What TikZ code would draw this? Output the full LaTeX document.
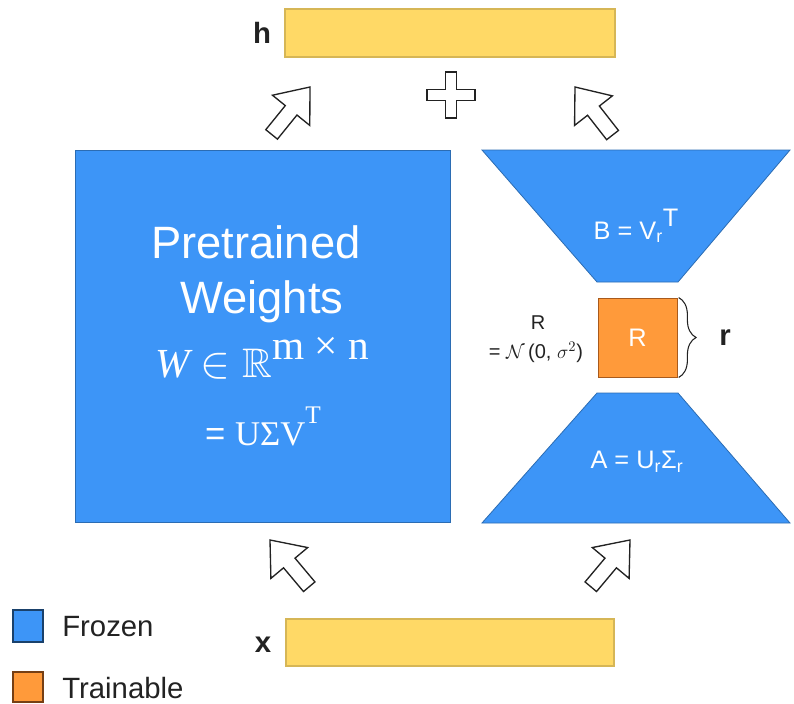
\documentclass[tikz,border=0pt]{standalone}
\usepackage{amsmath,amssymb,graphicx}
\usepackage[no-math]{fontspec}
\setmainfont{Liberation Sans}
\newfontfamily\serifb{Liberation Serif}
\usetikzlibrary{decorations.pathreplacing}
\definecolor{frozen}{HTML}{3D95F7}
\definecolor{frozenline}{HTML}{2B6CB3}
\definecolor{train}{HTML}{FF9A3A}
\definecolor{trainline}{HTML}{A85A1C}
\definecolor{vec}{HTML}{FFD966}
\definecolor{vecline}{HTML}{D6B656}
\definecolor{ink}{HTML}{222222}
\begin{document}
\begin{tikzpicture}[x=0.75pt,y=-0.75pt,
  frozenbox/.style={fill=frozen,draw=frozenline,line width=0.6pt},
  trainbox/.style={fill=train,draw=trainline,line width=0.6pt},
  vecbox/.style={fill=vec,draw=vecline,line width=0.8pt,inner sep=0pt,outer sep=0pt},
  wtxt/.style={text=white,inner sep=0pt},
  btxt/.style={text=ink,inner sep=0pt},
  outline/.style={draw=ink,fill=white,line width=1pt,line join=miter},
  blockarrow/.pic={\path[outline] (0,0) -- (-30,24) -- (-30,7.5) -- (-61,7.5) -- (-61,-7.5) -- (-30,-7.5) -- (-30,-24) -- cycle;}
]
\useasboundingbox (0,0) rectangle (794,704);

% input / output vectors
\node[vecbox, minimum width=247.5pt, minimum height=36pt] (hbar) at (450,33) {};
\node[btxt, font=\bfseries\fontsize{22}{26}\selectfont] (hlab) at (262,33) {h};
\node[vecbox, minimum width=246pt, minimum height=35.25pt] (xbar) at (450,642.5) {};
\node[btxt, font=\bfseries\fontsize{22}{26}\selectfont] (xlab) at (263,645) {x};

% pretrained weights
\node[frozenbox, minimum width=281.25pt, minimum height=279pt, inner sep=0pt] (W) at (262.5,336) {};
\node[wtxt, anchor=base, font=\fontsize{34}{40}\selectfont] (Wl1) at (256,258) {Pretrained};
\node[wtxt, anchor=base, font=\fontsize{34}{40}\selectfont] (Wl2) at (262,313) {Weights};
\node[wtxt, anchor=base, font=\fontsize{31}{36}\selectfont] (Wl3) at (262,377)
  {{\serifb\itshape W} \scalebox{1.35}{$\in$} $\mathbb{R}$\raisebox{0.42em}{\serifb m × n}};
\node[wtxt, anchor=base, font=\fontsize{26}{30}\selectfont] (Wl4) at (263,445)
  {= {\serifb UΣV\raisebox{0.62em}{\fontsize{19}{22}\selectfont T}}};

% low-rank branch
\path[frozenbox] (482,150) -- (790,150) -- (678,282) -- (597,282) -- cycle;
\node[wtxt, font=\fontsize{19}{22}\selectfont] (Btxt) at (636,226)
  {B = V$_{\text{r}}$\raisebox{0.5em}{T}};
\node[trainbox, minimum width=59.25pt, minimum height=59.25pt, inner sep=0pt] (R) at (637.5,337.5) {};
\node[wtxt, font=\fontsize{19}{22}\selectfont] (Rtxt) at (R) {R};
\path[frozenbox] (597,393) -- (678,393) -- (790,523) -- (482,523) -- cycle;
\node[wtxt, font=\fontsize{19}{22}\selectfont] (Atxt) at (637,462) {A = U$_{\text{r}}$Σ$_{\text{r}}$};

\node[btxt, font=\fontsize{15}{18}\selectfont] (Rlab1) at (538,323) {R};
\node[btxt, font=\fontsize{15}{18}\selectfont] (Rlab2) at (536,352) {= $\mathcal{N}$\,(0, $\sigma^2$)};

\draw[ink, line width=0.8pt, decorate, decoration={brace, amplitude=13pt}] ([xshift=1pt]R.north east) -- ([xshift=1pt]R.south east);
\node[btxt, font=\bfseries\fontsize{22}{26}\selectfont] (rlab) at (725,338) {r};

% plus sign
\path[outline] (445.5,72) -- (456.5,72) -- (456.5,89.5) -- (475,89.5) -- (475,100.5) -- (456.5,100.5) -- (456.5,118) -- (445.5,118) -- (445.5,100.5) -- (427,100.5) -- (427,89.5) -- (445.5,89.5) -- cycle;

% block arrows
\pic[rotate=51] at (310,87) {blockarrow};
\pic[rotate=128] at (575,87) {blockarrow};
\pic[rotate=130] at (270,540) {blockarrow};
\pic[rotate=50] at (630,540) {blockarrow};

% legend
\node[fill=frozen, draw=frozenline!60!black, line width=0.8pt, minimum width=22.5pt, minimum height=24pt, inner sep=0pt] (legF) at (28,626) {};
\node[btxt, anchor=west, font=\fontsize{22}{26}\selectfont] (legFt) at (62,627) {Frozen};
\node[fill=train, draw=trainline!70!black, line width=0.8pt, minimum width=22.5pt, minimum height=22.5pt, inner sep=0pt] (legT) at (28,687) {};
\node[btxt, anchor=west, font=\fontsize{22}{26}\selectfont] (legTt) at (62,688) {Trainable};
\end{tikzpicture}
\end{document}
